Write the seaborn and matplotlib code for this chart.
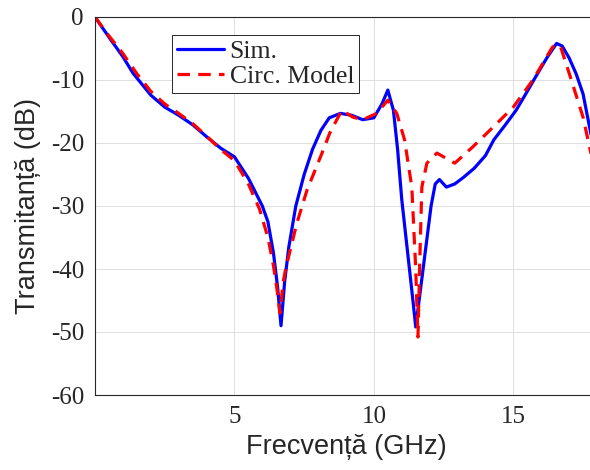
import matplotlib
matplotlib.use("Agg")
import matplotlib.pyplot as plt
import seaborn as sns
import pandas as pd

# Simulated transmission (full-wave)
sim_freq = [0.0, 0.5, 1.0, 1.36, 2.0, 2.5, 3.0, 3.5, 4.0, 4.5, 5.0, 5.5, 6.0, 6.2, 6.4,
            6.55, 6.67, 6.8, 6.95, 7.2, 7.5, 7.8, 8.1, 8.4, 8.8, 9.2, 9.6, 10.0, 10.3,
            10.5, 10.7, 10.85, 11.0, 11.2, 11.4, 11.5, 11.65, 11.85, 12.05, 12.2, 12.35,
            12.6, 12.9, 13.2, 13.6, 14.0, 14.3, 14.7, 15.1, 15.5, 15.8, 16.2, 16.55,
            16.75, 17.0, 17.25, 17.5, 17.8]
sim_db = [0.0, -3.2, -6.3, -8.9, -12.4, -14.3, -15.6, -17.1, -19.0, -20.8, -22.2, -25.6,
          -30.0, -32.5, -37.5, -43.0, -49.0, -42.0, -36.5, -30.0, -25.0, -21.0, -18.0,
          -16.0, -15.3, -15.6, -16.3, -16.0, -13.7, -11.6, -14.8, -21.0, -29.0, -37.0,
          -45.0, -49.2, -44.0, -37.0, -30.0, -26.5, -25.8, -27.0, -26.5, -25.5, -24.0,
          -22.0, -19.5, -17.2, -14.8, -11.8, -9.5, -6.5, -4.2, -4.6, -6.5, -9.0, -12.2,
          -19.0]

# Equivalent circuit model
mod_freq = [0.0, 0.5, 1.0, 1.5, 2.0, 2.5, 3.0, 3.5, 4.0, 4.5, 5.0, 5.5, 5.9, 6.2, 6.4,
            6.55, 6.63, 6.75, 6.85, 7.0, 7.24, 7.6, 8.14, 8.42, 8.85, 9.25, 9.6, 10.1,
            10.5, 10.82, 11.1, 11.36, 11.5, 11.58, 11.65, 11.72, 11.9, 12.26, 12.9,
            13.55, 14.27, 15.0, 15.7, 16.4, 16.55, 16.7, 17.0, 17.5, 17.8]
mod_db = [0.0, -3.0, -5.8, -9.0, -11.8, -13.8, -15.3, -16.9, -18.9, -21.0, -22.8, -26.5,
          -30.5, -35.0, -39.5, -44.0, -47.0, -42.0, -39.7, -37.0, -32.7, -27.5, -21.6,
          -18.4, -14.8, -15.9, -16.3, -15.3, -13.2, -15.3, -19.5, -27.0, -40.0, -50.8,
          -38.0, -27.0, -23.2, -21.6, -23.2, -20.6, -17.5, -14.3, -10.0, -4.8, -4.3,
          -4.8, -8.9, -15.9, -22.0]

x_ticks = [5, 10, 15]
y_ticks = [0, -10, -20, -30, -40, -50, -60]
series_names = ["Sim.", "Circ. Model"]

sns.set_style("white")
plt.rcParams["font.family"] = ["Liberation Serif", "DejaVu Serif"]

sim_df = pd.DataFrame({"f": sim_freq, "s21": sim_db})
mod_df = pd.DataFrame({"f": mod_freq, "s21": mod_db})

fig = plt.figure(figsize=(5.9, 4.7), dpi=100)
ax = fig.add_axes([95 / 590, 75 / 470, 502 / 590, 378 / 470])

sns.lineplot(data=sim_df, x="f", y="s21", ax=ax, color="#0000ff", linewidth=2.3,
             label=series_names[0], sort=False)
sns.lineplot(data=mod_df, x="f", y="s21", ax=ax, color="#ff0000", linewidth=2.3,
             linestyle=(0, (3.9, 2.6)), label=series_names[1], sort=False)

ax.set_xlim(0, 18)
ax.set_ylim(-60, 0)
ax.set_xticks(x_ticks)
ax.set_yticks(y_ticks)
ax.set_xticklabels([str(t) for t in x_ticks])
ax.set_yticklabels([str(t) for t in y_ticks])
ax.tick_params(direction="in", length=4, width=0.6, colors="#262626",
               labelsize=18, pad=8)
ax.grid(True, color="#dedede", linewidth=0.7)
for side in ["left", "bottom", "top", "right"]:
    ax.spines[side].set_visible(True)
    ax.spines[side].set_color("#262626")
    ax.spines[side].set_linewidth(0.8)

label_font = dict(family=["Liberation Sans", "DejaVu Sans"], size=19.5, color="#262626")
ax.set_xlabel("Frecvență (GHz)", labelpad=4, **label_font)
ax.set_ylabel("Transmitanță (dB)", labelpad=7, **label_font)

leg = ax.legend(loc="upper left", bbox_to_anchor=(0.153, 0.952), borderaxespad=0,
                fontsize=18.5, handlelength=1.85, handletextpad=0.2, labelspacing=0.05,
                borderpad=0.2, fancybox=False, framealpha=1, edgecolor="#262626")
leg.get_frame().set_linewidth(0.7)

fig.savefig("out.png", dpi=100)
